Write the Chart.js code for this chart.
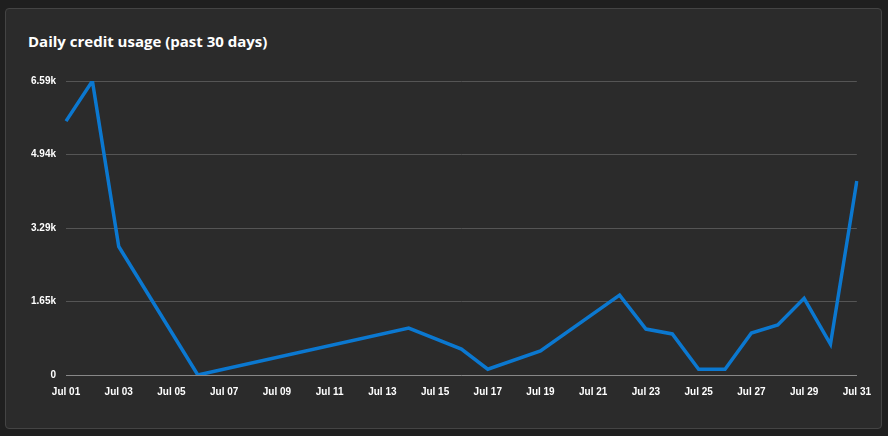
<!DOCTYPE html>
<html>
<head>
<meta charset="utf-8">
<script src="https://cdn.jsdelivr.net/npm/chart.js@4"></script>
<style>
  html, body { margin: 0; padding: 0; background: #1f1f1f; }
  .card {
    position: absolute; left: 5px; top: 8px; width: 877px; height: 421px;
    background: #2b2b2b; border: 1px solid #444; border-radius: 4px; box-sizing: border-box;
  }
  .title {
    position: absolute; left: 22px; top: 22px; color: #fff;
    font: bold 15px "Segoe UI", "Open Sans", sans-serif;
  }
  .wrap { position: absolute; left: 10px; top: 56px; width: 858px; height: 336px; }
</style>
</head>
<body>
<div class="card">
  <div class="title">Daily credit usage (past 30 days)</div>
  <div class="wrap"><canvas id="usage"></canvas></div>
</div>
<script>
const days = [];
for (let d = 1; d <= 31; d++) days.push('Jul ' + String(d).padStart(2, '0'));

// credits per day (null = no record, line spans across)
const credits = [5690, 6590, 2880, null, null, 0, null, null, null, null, null, null, null, 1050,
  null, 580, 130, null, 540, null, null, 1790, 1030, 920, 130, 130, 940, 1120, 1720, 690, 4350];

const yTicks = [0, 1647.5, 3295, 4942.5, 6590];
const yLabels = ['0', '1.65k', '3.29k', '4.94k', '6.59k'];

new Chart(document.getElementById('usage'), {
    type: 'line',
    data: {
        labels: days,
        datasets: [{
            data: credits,
            borderColor: '#0b78d0',
            borderWidth: 3.5,
            pointRadius: 0,
            tension: 0,
            spanGaps: true
        }]
    },
    options: {
        responsive: true,
        maintainAspectRatio: false,
        animation: false,
        layout: { padding: { left: 5, right: 4, top: 6 } },
        plugins: { legend: { display: false }, tooltip: { enabled: false } },
        scales: {
            x: {
                grid: { display: false, drawTicks: true },
                border: { color: '#888' },
                ticks: {
                    color: '#fff', font: { size: 10, weight: 'bold' },
                    maxRotation: 0, autoSkip: false,
                    callback: (v, i) => i % 2 === 0 ? days[i] : ''
                }
            },
            y: {
                min: 0, max: 6590,
                afterBuildTicks: axis => { axis.ticks = yTicks.map(v => ({ value: v })); },
                grid: { color: '#555', drawTicks: false },
                border: { display: false },
                ticks: {
                    color: '#fff', font: { size: 10, weight: 'bold' }, padding: 10,
                    callback: (v) => yLabels[yTicks.indexOf(v)]
                }
            }
        }
    }
});
</script>
</body>
</html>
